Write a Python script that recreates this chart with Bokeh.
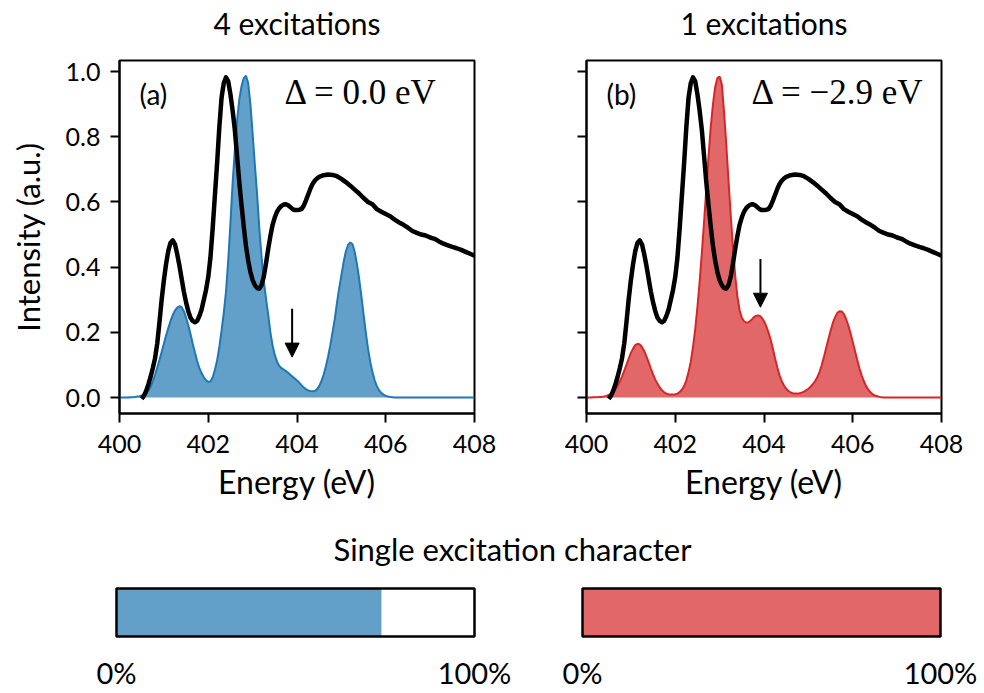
import numpy as np
from bokeh.plotting import figure
from bokeh.layouts import column, row
from bokeh.models import Range1d, FixedTicker, PrintfTickFormatter, Arrow, NormalHead
from bokeh.core.properties import value
from bokeh.embed import file_html
from bokeh.resources import INLINE

# ---------------- data ----------------
# theory spectra sampled every 0.05 eV from 400.00 to 408.00 eV
ENERGY = np.round(np.linspace(400.0, 408.0, 161), 2)

BLUE = [
    0, 0, 0, 0, 0, 0.001, 0.001, 0.002, 0.003, 0.004,
    0.006, 0.009, 0.013, 0.02, 0.032, 0.05, 0.07, 0.092, 0.115, 0.14,
    0.165, 0.19, 0.213, 0.235, 0.253, 0.267, 0.276, 0.28, 0.277, 0.265,
    0.245, 0.222, 0.195, 0.165, 0.138, 0.112, 0.09, 0.075, 0.062, 0.053,
    0.048, 0.049, 0.062, 0.085, 0.114, 0.155, 0.205, 0.26, 0.325, 0.42,
    0.535, 0.66, 0.76, 0.85, 0.915, 0.955, 0.98, 0.987, 0.965, 0.9,
    0.81, 0.715, 0.625, 0.52, 0.435, 0.36, 0.305, 0.255, 0.2, 0.16,
    0.13, 0.11, 0.097, 0.09, 0.086, 0.081, 0.076, 0.07, 0.064, 0.058,
    0.052, 0.046, 0.038, 0.031, 0.026, 0.022, 0.02, 0.019, 0.02, 0.025,
    0.035, 0.05, 0.07, 0.095, 0.125, 0.16, 0.2, 0.24, 0.29, 0.335,
    0.375, 0.415, 0.448, 0.468, 0.476, 0.47, 0.447, 0.41, 0.365, 0.312,
    0.255, 0.2, 0.15, 0.11, 0.078, 0.053, 0.035, 0.022, 0.014, 0.009,
    0.005, 0.003, 0.002, 0.001, 0, 0, 0, 0, 0, 0,
    0, 0, 0, 0, 0, 0, 0, 0, 0, 0,
    0, 0, 0, 0, 0, 0, 0, 0, 0, 0,
    0, 0, 0, 0, 0, 0, 0, 0, 0, 0,
    0,
]

RED = [
    0, 0, 0, 0.001, 0.001, 0.001, 0.002, 0.002, 0.003, 0.005,
    0.008, 0.011, 0.017, 0.025, 0.036, 0.049, 0.064, 0.082, 0.1, 0.119,
    0.137, 0.15, 0.161, 0.165, 0.163, 0.155, 0.143, 0.126, 0.108, 0.089,
    0.071, 0.055, 0.042, 0.031, 0.022, 0.016, 0.012, 0.01, 0.009, 0.009,
    0.01, 0.012, 0.017, 0.024, 0.035, 0.053, 0.078, 0.11, 0.155, 0.21,
    0.278, 0.355, 0.445, 0.54, 0.64, 0.74, 0.83, 0.9, 0.953, 0.98,
    0.985, 0.96, 0.875, 0.775, 0.665, 0.56, 0.46, 0.375, 0.31, 0.268,
    0.245, 0.234, 0.23, 0.231, 0.236, 0.243, 0.249, 0.252, 0.251, 0.245,
    0.234, 0.219, 0.2, 0.177, 0.15, 0.12, 0.092, 0.068, 0.05, 0.037,
    0.027, 0.02, 0.016, 0.013, 0.012, 0.012, 0.013, 0.015, 0.018, 0.022,
    0.027, 0.033, 0.041, 0.05, 0.062, 0.078, 0.099, 0.124, 0.152, 0.179,
    0.205, 0.228, 0.246, 0.259, 0.265, 0.264, 0.256, 0.241, 0.221, 0.197,
    0.17, 0.143, 0.116, 0.09, 0.068, 0.05, 0.035, 0.024, 0.016, 0.01,
    0.006, 0.004, 0.002, 0.001, 0, 0, 0, 0, 0, 0,
    0, 0, 0, 0, 0, 0, 0, 0, 0, 0,
    0, 0, 0, 0, 0, 0, 0, 0, 0, 0,
    0,
]

# experimental spectrum: 0.05 eV steps 400.5-404.5, then 0.1 eV steps 404.6-408.0
EXP_E = list(np.round(np.linspace(400.5, 404.5, 81), 2)) + list(np.round(np.linspace(404.6, 408.0, 35), 2))
EXP = [
    -0.004, 0.005, 0.02, 0.04, 0.063, 0.09, 0.12, 0.165, 0.23, 0.3,
    0.36, 0.41, 0.45, 0.475, 0.482, 0.47, 0.44, 0.405, 0.365, 0.325,
    0.292, 0.265, 0.245, 0.235, 0.231, 0.235, 0.25, 0.27, 0.3, 0.33,
    0.37, 0.43, 0.52, 0.62, 0.72, 0.83, 0.92, 0.965, 0.982, 0.97,
    0.93, 0.88, 0.82, 0.74, 0.66, 0.59, 0.525, 0.465, 0.42, 0.385,
    0.36, 0.345, 0.336, 0.334, 0.345, 0.37, 0.41, 0.455, 0.495, 0.53,
    0.553, 0.57, 0.581, 0.588, 0.592, 0.593, 0.59, 0.584, 0.578, 0.575,
    0.575, 0.576, 0.578, 0.588, 0.604, 0.622, 0.64, 0.655, 0.665, 0.672,
    0.677,
    0.682, 0.684, 0.683, 0.679, 0.671, 0.661, 0.65, 0.638, 0.626, 0.612,
    0.6, 0.593, 0.578, 0.57, 0.563, 0.556, 0.546, 0.537, 0.53, 0.521,
    0.511, 0.505, 0.5, 0.497, 0.491, 0.487, 0.479, 0.472, 0.467, 0.462,
    0.458, 0.453, 0.447, 0.441, 0.435,
]

THEORY = [BLUE, RED]
TITLES = ["4 excitations", "1 excitations"]
PANEL_LABELS = ["(a)", "(b)"]
DELTAS = ["\u0394 = 0.0 eV", "\u0394 = \u22122.9 eV"]
ARROW_X = [403.89, 403.92]
ARROW_FROM = [0.272, 0.425]
ARROW_TO = [0.124, 0.277]
SINGLE_CHAR = [74, 100]          # single excitation character, %
X_TICKS = [400, 402, 404, 406, 408]
Y_TICKS = [0.0, 0.2, 0.4, 0.6, 0.8, 1.0]
PCT_LABELS = ["0%", "100%"]

LINE_COLORS = ["#1f77b4", "#d62728"]
FONT = "Lato"
SERIF = "Liberation Serif"
X_MIN, X_MAX = 400, 408
Y_MIN, Y_MAX = -0.049, 1.034


def make_panel(i, width, mb_left, mb_right):
    p = figure(width=width, height=462, x_range=Range1d(X_MIN, X_MAX), y_range=Range1d(Y_MIN, Y_MAX),
               output_backend="svg", toolbar_location=None,
               min_border_left=mb_left, min_border_right=mb_right,
               min_border_top=12, min_border_bottom=97)
    p.grid.visible = False
    p.background_fill_color = "white"
    p.border_fill_color = "white"
    p.outline_line_color = "black"
    p.outline_line_width = 2
    p.outline_line_alpha = 1
    for ax in (p.xaxis[0], p.yaxis[0]):
        ax.axis_line_width = 2
        ax.axis_line_color = "black"
        ax.major_tick_line_width = 2
        ax.major_tick_line_color = "black"
        ax.major_tick_out = 9
        ax.major_tick_in = 0
        ax.minor_tick_line_color = None
        ax.major_label_text_font = FONT
        ax.major_label_text_font_size = "25px"
        ax.major_label_text_color = "black"
        ax.axis_label_text_font = FONT
        ax.axis_label_text_font_size = "32px"
        ax.axis_label_text_font_style = "normal"
        ax.axis_label_text_color = "black"
    p.xaxis.ticker = FixedTicker(ticks=X_TICKS)
    p.xaxis.formatter = PrintfTickFormatter(format="%d")
    p.xaxis.major_label_standoff = 12
    p.xaxis.axis_label = "Energy (eV)"
    p.xaxis.axis_label_standoff = 6
    p.yaxis.ticker = FixedTicker(ticks=Y_TICKS)
    p.yaxis.formatter = PrintfTickFormatter(format="%.1f")
    p.yaxis.major_label_standoff = 10
    if i == 0:
        p.yaxis.axis_label = "Intensity (a.u.)"
        p.yaxis.axis_label_text_font_size = "31px"
        p.yaxis.axis_label_standoff = 16
    else:
        p.yaxis.major_label_overrides = {t: "" for t in Y_TICKS}

    col = LINE_COLORS[i]
    p.varea(x=ENERGY, y1=0, y2=THEORY[i], fill_color=col, fill_alpha=0.7)
    p.line(ENERGY, THEORY[i], line_color=col, line_width=2)
    p.line(EXP_E, EXP, line_color="black", line_width=4.5, line_join="round")

    p.text(x=[400.45], y=[0.932], text=[PANEL_LABELS[i]], text_font=value(FONT),
           text_font_size="28px", text_baseline="middle", text_align="left", text_color="black")
    p.text(x=[403.72], y=[0.937], text=[DELTAS[i]], text_font=value(SERIF),
           text_font_size="35px", text_baseline="alphabetic", text_align="left", text_color="black")
    p.add_layout(Arrow(end=NormalHead(size=14, fill_color="black", line_color="black"),
                       x_start=ARROW_X[i], y_start=ARROW_FROM[i], x_end=ARROW_X[i], y_end=ARROW_TO[i],
                       line_color="black", line_width=2))
    return p


def blank_strip(width, height, x_range):
    s = figure(width=width, height=height, x_range=x_range, y_range=Range1d(height, 0),
               output_backend="svg", toolbar_location=None, min_border=0,
               x_axis_location=None, y_axis_location=None)
    s.grid.visible = False
    s.outline_line_color = None
    s.background_fill_color = "white"
    s.border_fill_color = "white"
    return s


# ---- panel titles (strip above the two panels, x in page pixels) ----
top = blank_strip(984, 48, Range1d(0, 984))
top.text(x=[296.5, 763.5], y=[22, 22], text=TITLES, text_font=value(FONT), text_font_size="30px",
         text_align="center", text_baseline="middle", text_color="black")

p1 = make_panel(0, 514, 119, 40)
p2 = make_panel(1, 470, 72, 43)

# ---- single-excitation-character bars ----
BAR_OFFSET = 130.17      # start of second bar, in % units of the bar scale
BAR_LEFT = [0, BAR_OFFSET]
p3 = blank_strip(984, 183, Range1d(-32.4, 242.46))
p3.quad(left=BAR_LEFT, right=[l + 100 for l in BAR_LEFT], top=78, bottom=126,
        fill_color="white", line_color=None)
p3.quad(left=BAR_LEFT, right=[l + v for l, v in zip(BAR_LEFT, SINGLE_CHAR)], top=78, bottom=126,
        fill_color=LINE_COLORS, fill_alpha=0.7, line_color=None)
p3.quad(left=BAR_LEFT, right=[l + 100 for l in BAR_LEFT], top=78, bottom=126,
        fill_color=None, line_color="black", line_width=2.5)
p3.text(x=[110.6], y=[38], text=["Single excitation character"], text_font=value(FONT),
        text_font_size="31px", text_align="center", text_baseline="middle", text_color="black")
pct_x = [l + t for l in BAR_LEFT for t in (0, 100)]
p3.text(x=pct_x, y=[162] * 4, text=PCT_LABELS * 2, text_font=value(FONT),
        text_font_size="29px", text_align="center", text_baseline="middle", text_color="black")

layout = column(top, row(p1, p2), p3)
open("out.html", "w").write(file_html(layout, INLINE))
